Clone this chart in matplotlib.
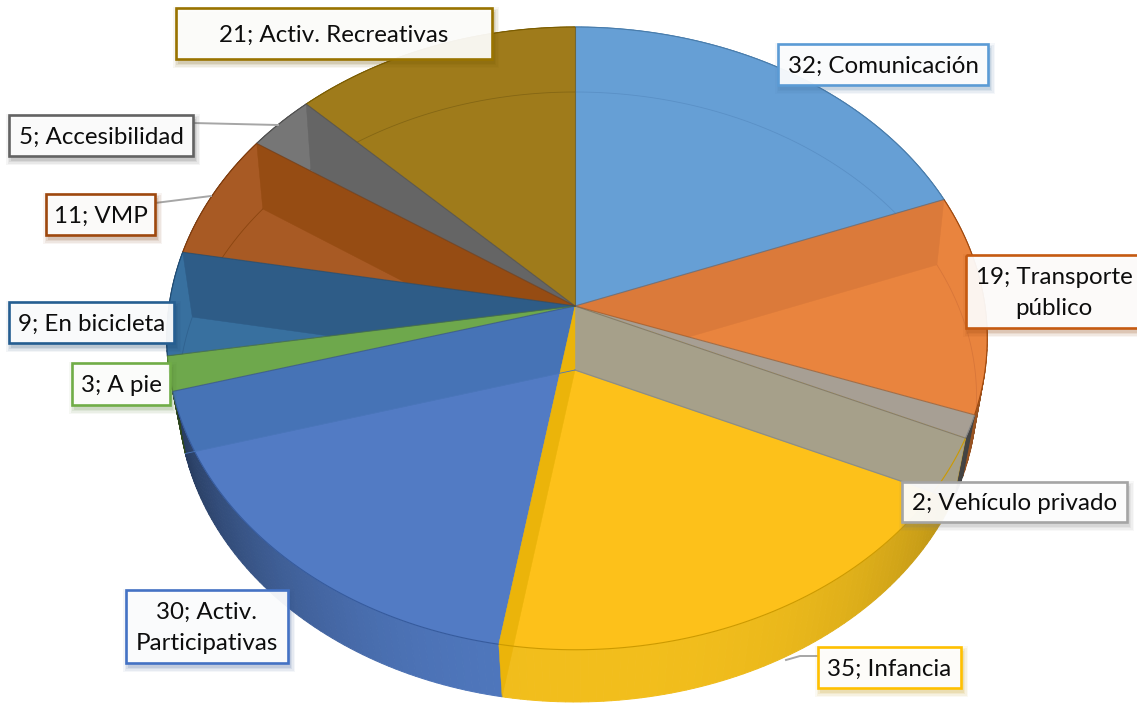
import numpy as np
import matplotlib
matplotlib.use("Agg")
import matplotlib.pyplot as plt
from matplotlib.patches import Polygon, Rectangle

plt.rcParams['font.family'] = ['Lato', 'DejaVu Sans']

categories = ["Comunicación", "Transporte\npúblico", "Vehículo privado", "Infancia",
              "Activ.\nParticipativas", "A pie", "En bicicleta", "VMP", "Accesibilidad",
              "Activ. Recreativas"]
values = [32, 19, 2, 35, 30, 3, 9, 11, 5, 21]
top_colors = ["#669FD5", "#E9843E", "#A79F94", "#FDC11A", "#527BC4",
              "#6EA84C", "#38709F", "#A85A24", "#767676", "#9F7B1B"]
side_colors = ["#5B8FC0", "#D2732F", "#5A5A5A", "#F2BE1C", "#4F77BD",
               "#5F9440", "#2F5F8A", "#964C13", "#656565", "#8A6A15"]
edge_colors = ["#5B9BD5", "#C55A11", "#A5A5A5", "#FFC000", "#4472C4",
               "#70AD47", "#255E91", "#9E480E", "#636363", "#997300"]

CX = 575.0


def top_pt(deg):
    t = np.radians(deg)
    u, v = np.sin(t), np.cos(t)
    w = 1 + 0.104 * v
    a = 410 if u >= 0 else 406
    return CX + a * u / w, 306 - 308 * v / w


def bot_pt(deg):
    t = np.radians(deg)
    u, v = np.sin(t), np.cos(t)
    w = 1 + 0.0885 * v
    a = 400 if u >= 0 else 395
    return CX + a * u / w, 370 - 302.6 * v / w


C_TOP = (CX, 306.0)
C_BOT = (CX, 370.0)

bounds = np.concatenate([[0], np.cumsum(values)]) / np.sum(values) * 360.0


def rim(f, a, b):
    n = max(2, int(abs(b - a)) + 2)
    return [f(d) for d in np.linspace(a, b, n)]


def shade(hexcol, k):
    r = np.array(matplotlib.colors.to_rgb(hexcol))
    return tuple(r * k)


fig = plt.figure(figsize=(11.37, 7.04), dpi=100, facecolor="white")
ax = fig.add_axes([0, 0, 1, 1])
ax.set_xlim(0, 1137)
ax.set_ylim(704, 0)
ax.axis("off")

# outer side walls
for i in range(len(values)):
    a, b = bounds[i], bounds[i + 1]
    for d in np.arange(a, b, 1.0):
        e = min(d + 1.0, b)
        m = np.radians((d + e) / 2)
        u = np.sin(m)
        if u < 0:
            k = 1 - 0.55 * abs(u) ** 2.5
        else:
            k = 1 - 0.32 * abs(u) ** 3
        c = shade(side_colors[i], k)
        ax.add_patch(Polygon([top_pt(d), top_pt(e), bot_pt(e), bot_pt(d)], closed=True,
                             fc=c, ec=c, lw=0.7, zorder=1))

# top faces
tops = []
for i in range(len(values)):
    pts = [C_TOP] + rim(top_pt, bounds[i], bounds[i + 1])
    p = Polygon(pts, closed=True, fc=top_colors[i], ec=top_colors[i], lw=0.4, zorder=2)
    ax.add_patch(p)
    tops.append(p)


def wall(deg, color, clip=None, z=3):
    q = Polygon([C_TOP, top_pt(deg), bot_pt(deg), C_BOT], closed=True, fc=color, ec=color,
                lw=0.3, zorder=z)
    ax.add_patch(q)
    if clip is not None:
        q.set_clip_path(clip)


# inner walls seen through the translucent top faces
wall(bounds[1], "#DB7A3A", tops[1])
wall(bounds[5], "#4673B6", tops[4])
wall(bounds[7], "#2E5C87", tops[6])
wall(bounds[8], "#964C13", tops[7])
wall(bounds[9], "#656565", tops[8])

# far rim of the base disc
for i, col in [(0, "#5A90C6"), (1, "#D8763A"), (9, "#846614"), (8, "#5F5F5F"),
               (7, "#8A4510"), (6, "#30628F")]:
    xy = rim(bot_pt, bounds[i], bounds[i + 1])
    ln, = ax.plot(*zip(*xy), color=col, lw=0.6, zorder=4)
    ln.set_clip_path(tops[i])

# walls in front of the yellow slice
wall(bounds[3], "#A6A08A", z=5)
wall(bounds[4], "#EBB40A", z=5)

# top rims and radial edges
for i in range(len(values)):
    xy = rim(top_pt, bounds[i], bounds[i + 1])
    ax.plot(*zip(*xy), color=shade(edge_colors[i], 0.8), lw=0.8, zorder=6,
            solid_capstyle="butt")
for i, d in enumerate(bounds[:-1]):
    col = shade(top_colors[i - 1 if i else 9], 0.68)
    x, y = top_pt(d)
    if i == 4:
        continue
    ax.plot([C_TOP[0], x], [C_TOP[1], y], color=col, lw=0.8, alpha=0.7, zorder=6)
ax.plot([C_BOT[0], bot_pt(bounds[3])[0]], [C_BOT[1], bot_pt(bounds[3])[1]],
        color="#8E8E84", lw=0.9, zorder=6)
ax.plot([C_BOT[0], bot_pt(bounds[5])[0]], [C_BOT[1], bot_pt(bounds[5])[1]],
        color="#4A76BA", lw=0.6, zorder=6)

# leader lines
for xs, ys in [((193, 278), (123, 125)), ((155, 211), (203, 196)),
               ((818, 800, 786), (656, 656, 660))]:
    ax.plot(xs, ys, color="#A6A6A6", lw=1.4, zorder=7)

# data labels: box (x0, y0, x1, y1) per category
boxes = [(778, 44, 988, 85), (966, 255, 1142, 328), (902, 482, 1127, 522),
         (818, 647, 961, 688), (126, 590, 288, 663), (72, 363, 170, 405),
         (9, 302, 174, 343), (46, 194, 155, 235), (9, 115, 193, 156), (176, 8, 492, 59)]

for i, (name, val) in enumerate(zip(categories, values)):
    x0, y0, x1, y1 = boxes[i]
    w, h = x1 - x0, y1 - y0
    for grow, al in [(5, 0.05), (3.5, 0.07), (2, 0.09), (0.5, 0.12)]:
        ax.add_patch(Rectangle((x0 + 2 - grow, y0 + 4 - grow), w + 2 * grow, h + 2 * grow,
                               fc=shade(edge_colors[i], 0.75), ec="none", alpha=al, zorder=8))
    ax.add_patch(Rectangle((x0, y0), w, h, fc="white", alpha=0.93, ec="none", zorder=9))
    ax.add_patch(Rectangle((x0, y0), w, h, fc="none", ec=edge_colors[i], lw=1.9, zorder=10))
    ax.text((x0 + x1) / 2, (y0 + y1) / 2 + 1.5, f"{val}; {name}", ha="center", va="center",
            ma="center", fontsize=17.4, color="#0D0D0D", linespacing=1.55, zorder=11)

fig.savefig("out.png", dpi=100, facecolor="white")
